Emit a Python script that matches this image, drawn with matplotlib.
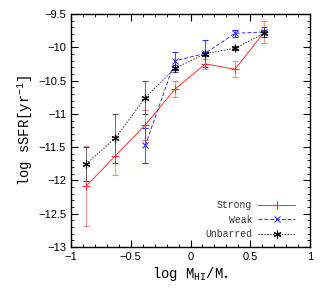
import numpy as np
import matplotlib
matplotlib.use('Agg')
import matplotlib.pyplot as plt
from matplotlib.ticker import MultipleLocator
from matplotlib.lines import Line2D

# log M_HI / M_*
x_strong = [-0.875, -0.629, -0.378, -0.130, 0.124, 0.372, 0.618]
y_strong = [-12.09, -11.63, -11.165, -10.63, -10.25, -10.33, -9.77]
e_strong = [0.60, 0.29, 0.23, 0.12, 0.07, 0.12, 0.16]

x_weak = [-0.378, -0.130, 0.124, 0.372, 0.618]
y_weak = [-11.475, -10.205, -10.09, -9.79, -9.77]
e_weak = [0.27, 0.13, 0.20, 0.05, 0.08]

x_unb = [-0.875, -0.629, -0.378, -0.130, 0.124, 0.372, 0.618]
y_unb = [-11.755, -11.365, -10.755, -10.315, -10.095, -10.015, -9.79]
e_unb = [0.25, 0.37, 0.25, 0.05, 0.03, 0.03, 0.05]

xticks = [-1, -0.5, 0, 0.5, 1]
yticks = [-13, -12.5, -12, -11.5, -11, -10.5, -10, -9.5]

mono = 'Liberation Mono'
plt.rcParams['font.family'] = 'Liberation Sans'

fig = plt.figure(figsize=(3.32, 3.01), dpi=100)
ax = fig.add_axes([0.2139, 0.1794, 0.7198, 0.7741])

styles = [
    dict(color='#ff3030', ls='-', lw=0.7, marker='+', ms=5.5, mew=0.8),
    dict(color='#3030ff', ls=(0, (4, 2)), lw=0.7, marker='x', ms=4.5, mew=0.8),
    dict(color='#333333', ls=(0, (1.5, 1.5)), lw=0.7, marker=(6, 2, 0), ms=5.5, mew=0.8,
         mec='black'),
]
ecols = ['#ff8080', '#3030ff', '#555555']

for (xs, ys, es), st, ec in zip([(x_strong, y_strong, e_strong),
                                 (x_weak, y_weak, e_weak),
                                 (x_unb, y_unb, e_unb)], styles, ecols):
    ax.errorbar(xs, ys, yerr=es, capsize=2.5, elinewidth=0.6, ecolor=ec, **st)

ax.set_xlim(-1, 1)
ax.set_ylim(-13, -9.5)
ax.set_xticks(xticks)
ax.set_xticklabels([('%g' % v).replace('-', '\u2212') for v in xticks])
ax.set_yticks(yticks)
ax.set_yticklabels([('%g' % v).replace('-', '\u2212') for v in yticks])
ax.xaxis.set_minor_locator(MultipleLocator(0.1))
ax.yaxis.set_minor_locator(MultipleLocator(0.1))
ax.tick_params(which='both', direction='in', top=True, right=True, labelsize=8)
ax.tick_params(which='major', length=5, width=0.8)
ax.tick_params(which='minor', length=2.5, width=0.6)
for s in ax.spines.values():
    s.set_linewidth(1.0)

ax.set_xlabel(r'log M$_{\mathregular{HI}}$/M$_{\star}$', family=mono, fontsize=10, labelpad=2)
ax.set_ylabel(r'log sSFR[yr$^{\mathregular{-1}}$]', family=mono, fontsize=10, labelpad=2)

handles = [Line2D([], [], **st) for st in styles]
leg = ax.legend(handles, ['Strong', 'Weak', 'Unbarred'], loc='lower right',
                frameon=False, markerfirst=False,
                prop={'family': mono, 'size': 7}, handlelength=3.8,
                labelspacing=0.45, borderaxespad=0.4, handletextpad=0.6,
                bbox_to_anchor=(0.97, 0.0))
for t in leg.get_texts():
    t.set_color('#333333')

fig.savefig('out.png', dpi=100)
